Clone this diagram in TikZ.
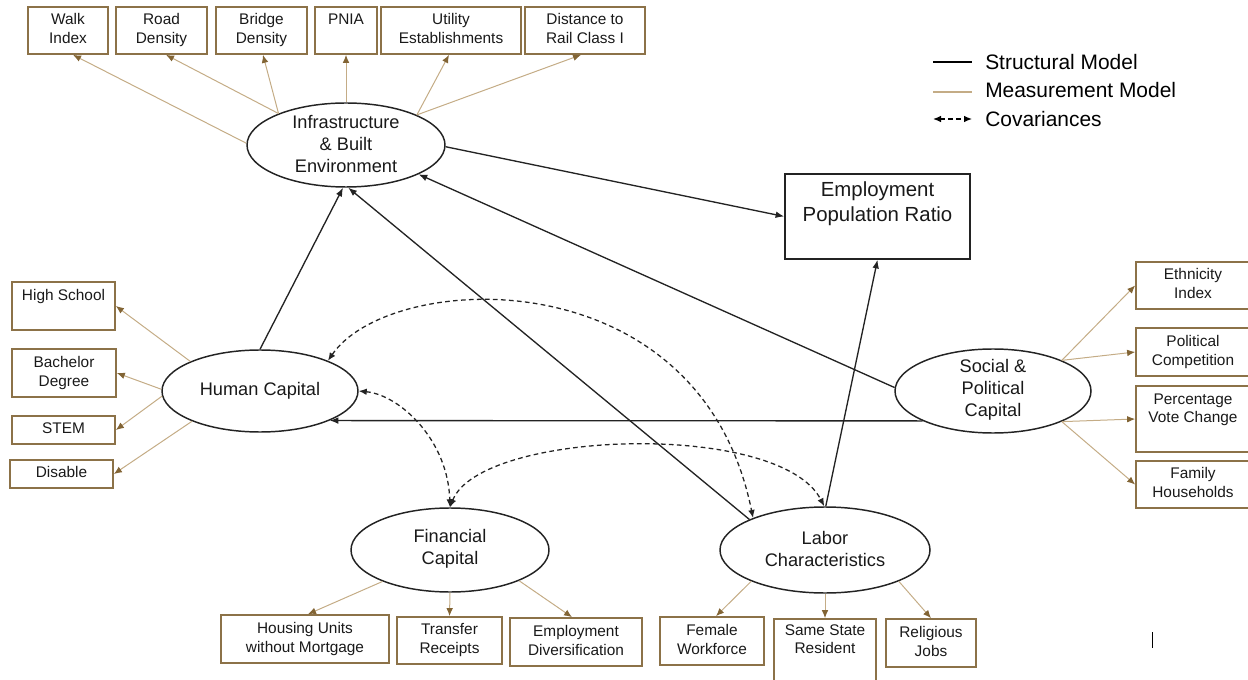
\documentclass[tikz,border=0pt]{standalone}
\usepackage{fontspec}
\setmainfont{Liberation Sans}
\usetikzlibrary{shapes.geometric,arrows.meta}

\definecolor{boxbrown}{RGB}{140,114,72}
\definecolor{meastan}{RGB}{196,172,134}
\definecolor{tipbrown}{RGB}{130,100,52}
\definecolor{inkgray}{RGB}{35,35,35}

\newcommand\indsize{\fontsize{11.55pt}{14pt}\selectfont}
\newcommand\latsize{\fontsize{13.65pt}{16.5pt}\selectfont}
\newcommand\eprsize{\fontsize{15.3pt}{18.75pt}\selectfont}
\newcommand\legsize{\fontsize{15.7pt}{18pt}\selectfont}

\begin{document}
\begin{tikzpicture}[x=0.75pt,y=-0.75pt,
  latent/.style={ellipse, draw=inkgray, line width=1.1pt, inner sep=0pt},
  lattext/.style={align=center, inner sep=0pt, font=\latsize, text=black!90},
  ind/.style={rectangle, draw=boxbrown, line width=1.3pt, inner sep=0pt,
    align=center, font=\indsize, text=black!90},
  meas/.style={draw=meastan, line width=0.75pt,
    -{Latex[length=6pt,width=5pt,color=tipbrown]}},
  struct/.style={draw=inkgray, line width=1pt, -{Latex[length=6.5pt,width=5pt]}},
  cov/.style={draw=inkgray, line width=0.95pt, dash pattern=on 3.5pt off 2.5pt,
    {Latex[length=6pt,width=5pt]}-{Latex[length=6pt,width=5pt]}},
]
\useasboundingbox (0,0) rectangle (1248,680);

% latent constructs
\node[latent, minimum width=148.5pt, minimum height=63pt] (infra) at (346,145) {};
\node[lattext] (infraL) at (346,144) {Infrastructure\\\& Built\\Environment};
\node[latent, minimum width=147pt, minimum height=61.5pt] (hc) at (260,391) {};
\node[lattext] (hcL) at (260,391) {Human Capital};
\node[latent, minimum width=148.5pt, minimum height=63pt] (fin) at (450,550) {};
\node[lattext] (finL) at (450,549) {Financial\\Capital};
\node[latent, minimum width=157.5pt, minimum height=64.5pt] (lab) at (825,550) {};
\node[lattext] (labL) at (825,549) {Labor\\Characteristics};
\node[latent, minimum width=147pt, minimum height=63pt] (soc) at (993,391) {};
\node[lattext] (socL) at (993,390) {Social \&\\Political\\Capital};

% outcome
\node[draw=inkgray, line width=1.1pt, minimum width=138.75pt, minimum height=63.75pt,
  inner sep=0pt, align=center, font=\eprsize, text=black!90] (epr) at (877.5,216.5)
  {\strut Employment\\\strut Population Ratio\\\strut};

% indicators: infrastructure
\node[ind, minimum width=60pt, minimum height=35.25pt] (walk) at (68,30.5) {\strut Walk\\\strut Index};
\node[ind, minimum width=68.25pt, minimum height=35.25pt] (road) at (161.5,30.5) {\strut Road\\\strut Density};
\node[ind, minimum width=68.25pt, minimum height=35.25pt] (bridge) at (261.5,30.5) {\strut Bridge\\\strut Density};
\node[ind, minimum width=46.5pt, minimum height=35.25pt] (pnia) at (346,30.5) {\strut PNIA\\\strut};
\node[ind, minimum width=105pt, minimum height=35.25pt] (util) at (451,30.5) {\strut Utility\\\strut Establishments};
\node[ind, minimum width=90pt, minimum height=35.25pt] (rail) at (585,30.5) {\strut Distance to\\\strut Rail Class I};

% indicators: human capital
\node[ind, minimum width=77.25pt, minimum height=36pt] (hs) at (63.5,306) {\strut High School\\\strut};
\node[ind, minimum width=78pt, minimum height=36pt] (bach) at (64,373) {\strut Bachelor\\\strut Degree};
\node[ind, minimum width=77.25pt, minimum height=21pt] (stem) at (63.5,430) {\strut STEM};
\node[ind, minimum width=77.25pt, minimum height=21pt] (dis) at (61.5,474) {\strut Disable};

% indicators: social & political capital
\node[ind, minimum width=85.5pt, minimum height=35.25pt] (eth) at (1193,285.5) {\strut Ethnicity\\\strut Index};
\node[ind, minimum width=85.5pt, minimum height=36pt] (pol) at (1193,352) {\strut Political\\\strut Competition};
\node[ind, minimum width=85.5pt, minimum height=49.5pt] (pct) at (1193,419) {\strut Percentage\\\strut Vote Change\\\strut};
\node[ind, minimum width=85.5pt, minimum height=35.25pt] (fam) at (1193,484.5) {\strut Family\\\strut Households};

% indicators: financial capital
\node[ind, minimum width=126pt, minimum height=36pt] (house) at (305,639) {\strut Housing Units\\\strut without Mortgage};
\node[ind, minimum width=78.75pt, minimum height=35.25pt] (trans) at (449.5,640.5) {\strut Transfer\\\strut Receipts};
\node[ind, minimum width=99pt, minimum height=36pt] (empd) at (576,642) {\strut Employment\\\strut Diversification};

% indicators: labor characteristics
\node[ind, minimum width=78pt, minimum height=36pt] (fem) at (712,641) {\strut Female\\\strut Workforce};
\node[ind, minimum width=76.5pt, minimum height=60.75pt] (sstate) at (825,659.5) {\strut Same State\\\strut Resident\\\strut\\\strut};
\node[ind, minimum width=67.5pt, minimum height=36pt] (relig) at (931,643) {\strut Religious\\\strut Jobs};

% measurement model
\draw[meas] (infra.179) -- ([xshift=3.75pt]walk.south);
\draw[meas] (infra.155) -- ([xshift=3.4pt]road.south);
\draw[meas] (infra.155) -- ([xshift=1.1pt]bridge.south);
\draw[meas] (infra.90) -- (pnia.south);
\draw[meas] (infra.23) -- ([xshift=-1.5pt]util.south);
\draw[meas] (infra.23) -- ([xshift=-3pt]rail.south);

\draw[meas] (hc.157) -- (hs.east);
\draw[meas] (hc.179) -- (bach.east);
\draw[meas] (hc.183) -- (stem.east);
\draw[meas] (hc.204) -- (dis.east);

\draw[meas] (soc.24) -- (eth.west);
\draw[meas] (soc.24) -- (pol.west);
\draw[meas] (soc.-24) -- (pct.west);
\draw[meas] (soc.-24) -- (fam.west);

\draw[meas] (fin.205) -- ([xshift=2.25pt]house.north);
\draw[meas] (fin.270) -- (trans.north);
\draw[meas] (fin.-24) -- ([xshift=-3pt]empd.north);

\draw[meas] (lab.203) -- ([xshift=3pt]fem.north);
\draw[meas] (lab.270) -- (sstate.north);
\draw[meas] (lab.-23) -- (relig.north);

% structural model
\draw[struct] (infra.-1) -- (epr.west);
\draw[struct] (hc.90) -- (infra.-94);
\draw[struct] (lab.158) -- (infra.-87);
\draw[struct] (soc.178) -- (infra.-22);
\draw[struct] (soc.203.6) -- (hc.-23.6);
\draw[struct] (lab.89) -- (epr.south);

% covariances
\draw[cov] (hc.24) .. controls (390,270) and (700,255) .. (lab.156);
\draw[cov] (hc.0) .. controls (400,395) and (448,440) .. (fin.90);
\draw[cov] (fin.90) .. controls (480,430) and (780,420) .. (lab.91);

% legend
\coordinate (k1a) at (933,62);  \coordinate (k1b) at (972,62);
\coordinate (k2a) at (933,92);  \coordinate (k2b) at (972,92);
\coordinate (k3a) at (933,119); \coordinate (k3b) at (972,119);
\draw[draw=black, line width=0.9pt] (k1a) -- (k1b);
\draw[draw=meastan, line width=1.2pt] (k2a) -- (k2b);
\draw[cov, draw=black] (k3a) -- (k3b);
\node[anchor=west, inner sep=0pt, font=\legsize] (leg1) at (985,62) {Structural Model};
\node[anchor=west, inner sep=0pt, font=\legsize] (leg2) at (985,90) {Measurement Model};
\node[anchor=west, inner sep=0pt, font=\legsize] (leg3) at (985,119) {Covariances};

% text cursor mark
\draw[black, line width=0.6pt] (1152,632) -- (1152,648);
\end{tikzpicture}
\end{document}
